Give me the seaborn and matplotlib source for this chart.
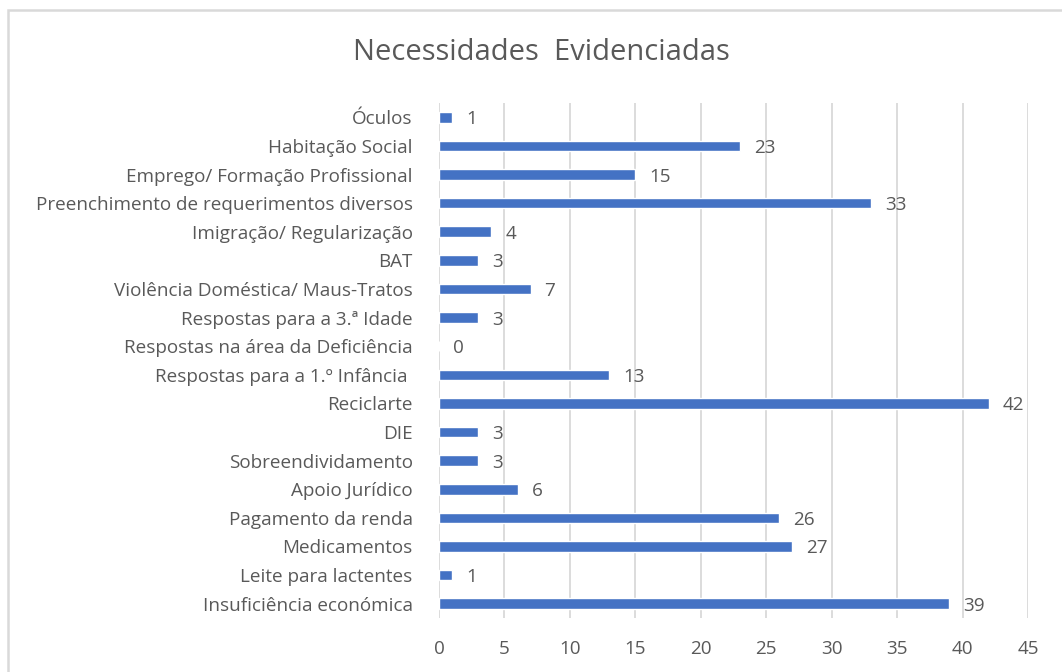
import matplotlib
matplotlib.use("Agg")
import matplotlib.pyplot as plt
import seaborn as sns
import pandas as pd
from matplotlib.patches import Rectangle

categories = [
    "Óculos",
    "Habitação Social",
    "Emprego/ Formação Profissional",
    "Preenchimento de requerimentos diversos",
    "Imigração/ Regularização",
    "BAT",
    "Violência Doméstica/ Maus-Tratos",
    "Respostas para a 3.ª Idade",
    "Respostas na área da Deficiência",
    "Respostas para a 1.º Infância ",
    "Reciclarte",
    "DIE",
    "Sobreendividamento",
    "Apoio Jurídico",
    "Pagamento da renda",
    "Medicamentos",
    "Leite para lactentes",
    "Insuficiência económica",
]
values = [1, 23, 15, 33, 4, 3, 7, 3, 0, 13, 42, 3, 3, 6, 26, 27, 1, 39]
x_ticks = [0, 5, 10, 15, 20, 25, 30, 35, 40, 45]

df = pd.DataFrame({"cat": categories, "val": values})

sns.set_theme(style="white")
plt.rcParams["font.family"] = ["Open Sans", "DejaVu Sans"]

TXT = "#595959"
fig = plt.figure(figsize=(10.62, 6.72), dpi=100)
ax = fig.add_axes([439 / 1062, 1 - 618 / 672, (1028 - 439) / 1062, (618 - 103) / 672])

sns.barplot(data=df, x="val", y="cat", orient="h", color="#4472C4",
            saturation=1, width=0.37, ax=ax, order=categories)

ax.set_xlim(0, 45)
ax.set_xticks(x_ticks)
ax.grid(axis="x", color="#D9D9D9", linewidth=1.3)
ax.grid(axis="y", visible=False)
ax.set_axisbelow(True)
for s in ax.spines.values():
    s.set_visible(False)
ax.tick_params(axis="both", length=0, colors=TXT, labelsize=13.6)
ax.tick_params(axis="y", pad=19)
ax.tick_params(axis="x", pad=16)
ax.set_xlabel("")
ax.set_ylabel("")

for i, v in enumerate(values):
    ax.annotate(str(v), xy=(v, i), xytext=(10, 0), textcoords="offset points",
                va="center_baseline", ha="left", fontsize=13.6, color=TXT)

fig.text(541 / 1062, 1 - 53 / 672, "Necessidades  Evidenciadas", ha="center",
         va="center", fontsize=21, color=TXT)

fig.patches.append(Rectangle((8 / 1062, -0.1), 1.2, 1 - 10 / 672 + 0.1,
                             transform=fig.transFigure, fill=False,
                             edgecolor="#D9D9D9", linewidth=1.8))

fig.savefig("out.png", dpi=100, facecolor="white")
